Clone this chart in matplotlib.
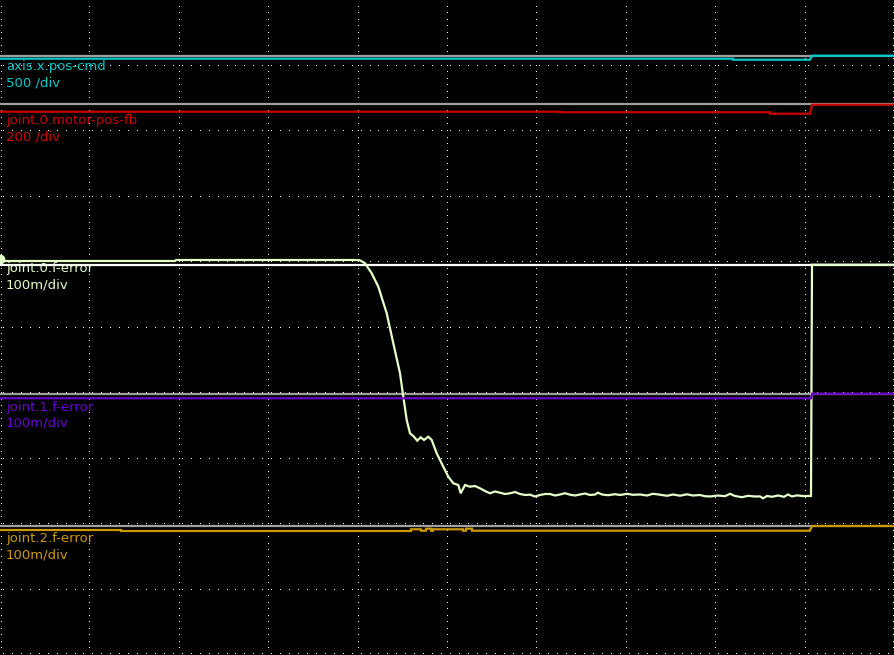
import numpy as np
import matplotlib
matplotlib.use("Agg")
import matplotlib.pyplot as plt

# Screen units (pixels of the scope display); 10 x 10 divisions
W, H = 894, 655
NDIV = 10

# Channel names / scales
names = ["axis.x.pos-cmd", "joint.0.motor-pos-fb", "joint.0.f-error",
         "joint.1.f-error", "joint.2.f-error"]
scales = ["500 /div", "200 /div", "100m/div", "100m/div", "100m/div"]
colors = ["#00c8c8", "#cc0000", "#e4ffc8", "#6a00cc", "#cc9900"]
baseline_colors = ["#a0a0a0", "#a0a0a0", "#ffffff", "#a0a0a0", "#a0a0a0"]

# Channel offsets (screen y of zero line)
offsets = [55.7, 104.3, 264.7, 393.7, 525.7]

# Label baselines (screen y)
label1_y = [70, 124, 272, 410.7, 541.7]
label2_y = [86.7, 140.7, 288.3, 426.7, 558.3]

# Traces (screen x, screen y)
cmd_x = [0, 733, 733, 810, 812, 894]
cmd_y = [58.7, 58.7, 59.7, 59.7, 55.7, 55.7]

fb_x = [0, 560, 560, 770, 770, 810, 812, 894]
fb_y = [111.7, 111.7, 112.2, 112.2, 113.7, 113.7, 104.7, 104.7]

ferr0_x = [0, 175, 176, 355, 360, 365, 371.7, 378.3, 386.7, 393.3, 400, 403.3,
           406.7, 410, 413.3, 417.3, 420.7, 424, 428.3, 431.7, 436.7, 443.3,
           448.3, 453.3, 458.3, 460.7, 465, 470, 475, 480, 485, 490, 495, 500,
           505, 510, 515, 520, 525, 530, 535, 540, 545, 550, 555, 560, 565,
           570, 575, 580, 585, 590, 595, 598, 602, 608, 615, 620, 627, 633,
           640, 647, 653, 660, 667, 673, 680, 687, 693, 700, 705, 710, 718,
           725, 730, 735, 742, 748, 755, 760, 763, 767, 772, 778, 784, 788,
           792, 797, 803, 810, 811, 812, 894]
ferr0_y = [261, 261, 260, 260, 260.3, 263.3, 273.3, 286.7, 313.3, 343.3, 373.3,
           396.7, 420, 433.3, 436, 440.7, 437.3, 440, 436.7, 440, 453.3, 466.7,
           476.7, 483.3, 485, 493.3, 485, 486.7, 486, 488.3, 491, 493.3, 491.5,
           492.7, 494, 493.3, 492, 494, 495, 494.7, 496.5, 495, 494, 494, 495.5,
           494.5, 493.2, 494.7, 495.5, 494.5, 493.5, 495, 494.5, 492.7, 494.5,
           495.2, 494.2, 495, 493.8, 494.8, 494.5, 495.5, 493.8, 494.7, 495.8,
           494.5, 495.7, 494.3, 495.5, 495, 496.2, 496.5, 495.5, 496.2, 493.8,
           496, 497.2, 495.8, 496.5, 496.4, 498.3, 496, 496.8, 495.5, 496.8,
           494.5, 496.4, 495.4, 496, 496, 496, 264.7, 264.7]

ferr1_x = [0, 811, 812, 894]
ferr1_y = [398.3, 398.3, 393.7, 393.7]

ferr2_x = [0, 121, 121, 411, 411, 421, 421, 426, 426, 431, 431, 433, 433, 463,
           463, 466, 466, 472, 472, 810, 812, 894]
ferr2_y = [530, 530, 531, 531, 529.3, 529.3, 530.7, 530.7, 528.7, 528.7,
           530.7, 530.7, 529.3, 529.3, 530.7, 530.7, 528.7, 528.7, 530.7,
           530.7, 526, 526]

traces_x = [cmd_x, fb_x, ferr0_x, ferr1_x, ferr2_x]
traces_y = [cmd_y, fb_y, ferr0_y, ferr1_y, ferr2_y]

fig = plt.figure(figsize=(W / 100, H / 100), dpi=100, facecolor="black")
ax = fig.add_axes([0, 0, 1, 1])
ax.set_facecolor("black")
ax.set_xlim(0, W)
ax.set_ylim(H, 0)
ax.axis("off")

# Dotted graticule
dx = W / NDIV
dy = H / NDIV
for k in range(NDIV + 1):
    gx = min(k * dx, W - 1) + (1 if k == 0 else 0)
    ys = np.arange(0, H, dy / 10)
    ax.plot(np.full_like(ys, gx), ys, ",", color="white", zorder=1)
    gy = min(k * dy, H - 1)
    xs = np.arange(0, W, dx / 10) + 3
    ax.plot(xs, np.full_like(xs, gy), ",", color="white", zorder=1)

lw = 1.6
for i in range(len(names)):
    ax.plot([0, W], [offsets[i], offsets[i]], color=baseline_colors[i],
            lw=lw, zorder=2, solid_capstyle="butt")
    ax.plot(traces_x[i], traces_y[i], color=colors[i], lw=lw, zorder=3,
            solid_joinstyle="miter", solid_capstyle="butt")
    ax.text(6, label1_y[i], names[i], color=colors[i], fontsize=9.5,
            family="DejaVu Sans", va="baseline", ha="left", zorder=4)
    ax.text(6, label2_y[i], scales[i], color=colors[i], fontsize=9.5,
            family="DejaVu Sans", va="baseline", ha="left", zorder=4)

# trigger marker on selected channel
ax.plot([0], [ferr0_y[0] - 2], "o", color=colors[2], ms=6, zorder=4)

fig.savefig("out.png", dpi=100, facecolor="black")
